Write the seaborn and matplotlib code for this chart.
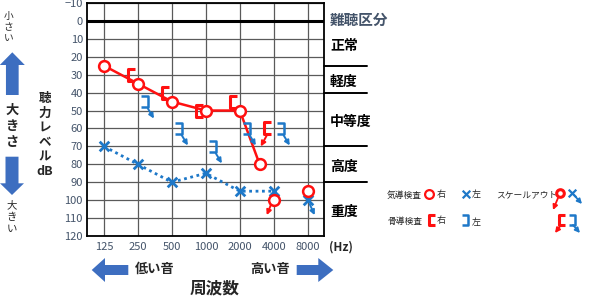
import matplotlib
matplotlib.use("Agg")
import matplotlib.pyplot as plt
import seaborn as sns
import pandas as pd
from matplotlib.path import Path
from matplotlib.markers import MarkerStyle
from matplotlib.transforms import offset_copy
import matplotlib.patches as mpatches

# ---------------- data ----------------
freq_ticks = [125, 250, 500, 1000, 2000, 4000, 8000]
freq_labels = ["125", "250", "500", "1000", "2000", "4000", "8000"]
db_ticks = list(range(-10, 121, 10))

right_air_freq = [125, 250, 500, 1000, 2000, 3000, 4000, 8000]
right_air_db = [25, 35, 45, 50, 50, 80, 100, 95]
right_air_linked = 6          # first points joined by the line
right_air_scaleout = [4000]

left_air_freq = [125, 250, 500, 1000, 2000, 4000, 8000]
left_air_db = [70, 80, 90, 85, 95, 95, 100]
left_air_linked = 6
left_air_scaleout = [8000]

right_bone_freq = [250, 500, 1000, 2000, 4000]
right_bone_db = [30, 40, 50, 45, 60]
right_bone_scaleout = [4000]

left_bone_freq = [250, 500, 1000, 2000, 4000]
left_bone_db = [45, 60, 70, 60, 60]
left_bone_scaleout = [250, 500, 1000, 2000, 4000]

grade_names = ["正常", "軽度", "中等度", "高度", "重度"]
grade_bounds = [0, 25, 40, 70, 90, 120]

RED = "#FF1010"
BLUE = "#1E78C8"
ARROWBLUE = "#3D6EC0"
TICKCOL = "#44546A"

# ---------------- style ----------------
sns.set_style("white")
plt.rcParams["font.family"] = ["Noto Sans CJK JP", "DejaVu Sans"]

fig = plt.figure(figsize=(6, 3), dpi=100)
over = fig.add_axes([0, 0, 1, 1], zorder=0)
over.set_xlim(0, 600)
over.set_ylim(300, 0)
over.axis("off")

ax = fig.add_axes([87 / 600, 1 - 236 / 300, 237 / 600, 233 / 300], zorder=1)
ax.set_xscale("log", base=2)
ax.set_xlim(125 / 2 ** 0.5, 8000 * 2 ** 0.48)
ax.set_ylim(120, -10)
ax.set_xticks(freq_ticks)
ax.set_xticklabels(freq_labels)
ax.set_yticks(db_ticks)
ax.set_yticklabels([str(v).replace("-", "\u2212") for v in db_ticks])
ax.minorticks_off()
ax.tick_params(length=0, labelsize=8, colors=TICKCOL)
ax.tick_params(axis="x", pad=4)
ax.tick_params(axis="y", pad=3)
ax.grid(True, color="#5A5A5A", lw=0.9)
for s in ax.spines.values():
    s.set_color("black")
    s.set_linewidth(1.3)
ax.axhline(0, color="black", lw=2.2, zorder=3)

# ---------------- lines ----------------
ra = pd.DataFrame({"f": right_air_freq, "db": right_air_db})
la = pd.DataFrame({"f": left_air_freq, "db": left_air_db})
rb = pd.DataFrame({"f": right_bone_freq, "db": right_bone_db})
lb = pd.DataFrame({"f": left_bone_freq, "db": left_bone_db})

sns.lineplot(data=ra.iloc[:right_air_linked], x="f", y="db", ax=ax,
             color=RED, lw=1.8, zorder=4)
sns.lineplot(data=la.iloc[:left_air_linked], x="f", y="db", ax=ax,
             color=BLUE, lw=2.0, ls=(0, (1, 1.3)), zorder=4)

# ---------------- markers ----------------
br_right = MarkerStyle(Path([(-3, 6), (-10, 6), (-10, -6), (-3, -6)]))
br_left = MarkerStyle(Path([(3, 5.5), (10, 5.5), (10, -5.5), (3, -5.5)]))
br_size = (20 * 0.72) ** 2

sns.scatterplot(data=rb, x="f", y="db", ax=ax, marker=br_right, s=br_size,
                facecolor="none", edgecolor=RED, linewidth=2.2, zorder=5)
sns.scatterplot(data=lb, x="f", y="db", ax=ax, marker=br_left, s=br_size,
                facecolor="none", edgecolor=BLUE, linewidth=1.8, zorder=5)
sns.scatterplot(data=la, x="f", y="db", ax=ax, marker="x", s=48,
                color=BLUE, linewidth=2.0, zorder=6)
sns.scatterplot(data=ra, x="f", y="db", ax=ax, marker="o", s=60,
                facecolor="white", edgecolor=RED, linewidth=1.8, zorder=7)
ax.set_xlabel("")
ax.set_ylabel("")


def so_arrow(f, db, tail, head, color):
    ax.annotate("", xy=(f, db),
                xycoords=offset_copy(ax.transData, fig=fig, x=head[0], y=head[1], units="dots"),
                xytext=(f, db),
                textcoords=offset_copy(ax.transData, fig=fig, x=tail[0], y=tail[1], units="dots"),
                arrowprops=dict(arrowstyle="-|>", color=color, lw=1.4,
                                shrinkA=0, shrinkB=0, mutation_scale=7),
                zorder=8)


for f, d in zip(right_air_freq, right_air_db):
    if f in right_air_scaleout:
        so_arrow(f, d, (-3, -5), (-7, -15), RED)
for f, d in zip(left_air_freq, left_air_db):
    if f in left_air_scaleout:
        so_arrow(f, d, (2, -4), (7, -15), BLUE)
for f, d in zip(right_bone_freq, right_bone_db):
    if f in right_bone_scaleout:
        so_arrow(f, d, (-7, -7), (-13, -18), RED)
for f, d in zip(left_bone_freq, left_bone_db):
    if f in left_bone_scaleout:
        so_arrow(f, d, (10, -7), (16, -17), BLUE)

# ---------------- grade column on right ----------------
ytr = ax.get_yaxis_transform()
for b in grade_bounds[1:-1]:
    ax.plot([1, 1 + 43 / 237], [b, b], transform=ytr, color="black",
            lw=1.4, clip_on=False)
for name, lo, hi in zip(grade_names, grade_bounds[:-1], grade_bounds[1:]):
    ax.text(1 + (330 - 324) / 237, (lo + hi) / 2 + 1.5, name, transform=ytr,
            ha="left", va="center", fontsize=10, fontweight="bold",
            color="black", clip_on=False)
over.text(330, 20, "難聴区分", fontsize=10.5, fontweight="bold",
          color=TICKCOL, ha="left", va="center")

# ---------------- axis titles / decorations ----------------
over.text(45, 135, "聴\n力\nレ\nベ\nル\ndB", fontsize=9, fontweight="bold",
          ha="center", va="center", linespacing=1.15)
over.text(8.5, 27, "小\nさ\nい", fontsize=7, ha="center", va="center",
          linespacing=1.15)
over.text(12, 126, "大\nき\nさ", fontsize=9.5, fontweight="bold",
          ha="center", va="center", linespacing=1.2)
over.text(11.5, 217, "大\nき\nい", fontsize=7.5, ha="center", va="center",
          linespacing=1.25)
over.add_patch(mpatches.FancyArrow(12.3, 95, 0, -42.7, width=12.7,
                                   head_width=25, head_length=12.7,
                                   length_includes_head=True,
                                   color=ARROWBLUE, lw=0))
over.add_patch(mpatches.FancyArrow(12, 156.7, 0, 38.3, width=13,
                                   head_width=24, head_length=11.7,
                                   length_includes_head=True,
                                   color=ARROWBLUE, lw=0))
over.add_patch(mpatches.FancyArrow(128.3, 270, -36.6, 0, width=10,
                                   head_width=24, head_length=13.3,
                                   length_includes_head=True,
                                   color=ARROWBLUE, lw=0))
over.add_patch(mpatches.FancyArrow(296.7, 270, 36.6, 0, width=10,
                                   head_width=24, head_length=15,
                                   length_includes_head=True,
                                   color=ARROWBLUE, lw=0))
over.text(155, 269, "低い音", fontsize=9.5, fontweight="bold",
          ha="center", va="center")
over.text(270, 269, "高い音", fontsize=9.5, fontweight="bold",
          ha="center", va="center")
over.text(214.5, 288, "周波数", fontsize=12, fontweight="bold",
          ha="center", va="center")
over.text(329, 247, "(Hz)", fontsize=8.5, fontweight="bold",
          ha="left", va="center")

# ---------------- legend ----------------
over.text(387, 195, "気導検査", fontsize=6.3, ha="left", va="center")
over.scatter([429], [194], marker="o", s=40, facecolor="white",
             edgecolor=RED, linewidth=1.6, zorder=5)
over.text(441, 195, "右", fontsize=6.5, ha="center", va="center")
over.scatter([465.5], [194], marker="x", s=30, color=BLUE,
             linewidth=1.6, zorder=5)
over.text(476, 195, "左", fontsize=6.5, ha="center", va="center")

over.text(387, 221, "骨導検査", fontsize=6.3, ha="left", va="center")
over.scatter([438], [220], marker=br_right, s=(18 * 0.72) ** 2,
             facecolor="none", edgecolor=RED, linewidth=2.2, zorder=5)
over.text(441, 221, "右", fontsize=6.5, ha="center", va="center")
over.scatter([459], [220], marker=br_left, s=(18 * 0.72) ** 2,
             facecolor="none", edgecolor=BLUE, linewidth=1.8, zorder=5)
over.text(476, 222, "左", fontsize=6.5, ha="center", va="center")

over.text(496, 195, "スケールアウト", fontsize=6.3, ha="left", va="center")
over.scatter([560], [193], marker="o", s=30, facecolor="white",
             edgecolor=RED, linewidth=2.2, zorder=5)
over.scatter([571.5], [193], marker="x", s=30, color=BLUE,
             linewidth=1.6, zorder=5)
over.scatter([568], [220], marker=br_right, s=(18 * 0.72) ** 2,
             facecolor="none", edgecolor=RED, linewidth=2.2, zorder=5)
over.scatter([566], [220], marker=br_left, s=(18 * 0.72) ** 2,
             facecolor="none", edgecolor=BLUE, linewidth=1.8, zorder=5)


def leg_arrow(x0, y0, x1, y1, color):
    over.annotate("", xy=(x1, y1), xytext=(x0, y0),
                  arrowprops=dict(arrowstyle="-|>", color=color, lw=1.3,
                                  shrinkA=0, shrinkB=0, mutation_scale=7))


leg_arrow(558, 198, 553, 210, RED)
leg_arrow(574, 195, 582, 204, BLUE)
leg_arrow(561, 225, 555, 233, RED)
leg_arrow(573, 225, 580, 233, BLUE)

fig.savefig("out.png", dpi=100)
